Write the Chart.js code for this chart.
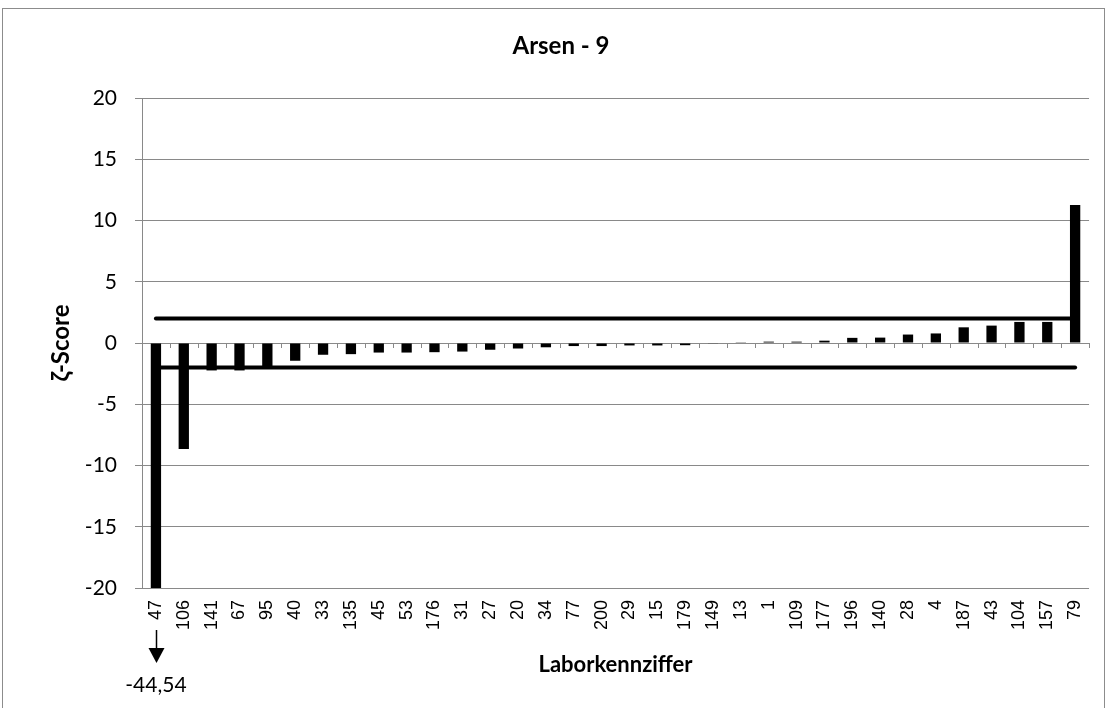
<!DOCTYPE html>
<html>
<head>
<meta charset="utf-8">
<script src="https://cdn.jsdelivr.net/npm/chart.js@4/dist/chart.umd.min.js"></script>
<style>
html,body{margin:0;padding:0;background:#fff;}
#wrap{position:relative;width:1109px;height:708px;}
</style>
</head>
<body>
<div id="wrap"><canvas id="c" width="1109" height="708"></canvas></div>
<script>
const categories = ['47','106','141','67','95','40','33','135','45','53','176','31','27','20','34','77','200','29','15','179','149','13','1','109','177','196','140','28','4','187','43','104','157','79'];
const zetaScores = [-44.54,-8.65,-2.24,-2.24,-1.97,-1.45,-0.96,-0.91,-0.78,-0.78,-0.75,-0.70,-0.55,-0.45,-0.35,-0.25,-0.25,-0.20,-0.20,-0.18,-0.03,0.02,0.11,0.11,0.19,0.42,0.44,0.69,0.78,1.28,1.42,1.72,1.72,11.26];
const upperLimit = [2,2,2,2,2,2,2,2,2,2,2,2,2,2,2,2,2,2,2,2,2,2,2,2,2,2,2,2,2,2,2,2,2,2];
const lowerLimit = [-2,-2,-2,-2,-2,-2,-2,-2,-2,-2,-2,-2,-2,-2,-2,-2,-2,-2,-2,-2,-2,-2,-2,-2,-2,-2,-2,-2,-2,-2,-2,-2,-2,-2];
const yTicks = [20,15,10,5,0,-5,-10,-15,-20];
const chartTitle = 'Arsen - 9';
const yTitle = 'ζ-Score';
const xTitle = 'Laborkennziffer';
const clippedNote = '-44,54';

const FONT = 'Lato, "Open Sans", sans-serif';
const GRID = '#898989';

const decor = {
  id: 'decor',
  beforeDraw(chart) {
    const ctx = chart.ctx;
    ctx.save();
    ctx.fillStyle = '#fff';
    ctx.fillRect(0, 0, chart.width, chart.height);
    ctx.strokeStyle = '#8c8c8c';
    ctx.lineWidth = 1;
    ctx.strokeRect(2.5, 8.5, 1102, 760);
    ctx.restore();
  },
  afterDatasetsDraw(chart) {
    const ctx = chart.ctx;
    const xs = chart.scales.x, ys = chart.scales.y;
    const y0 = ys.getPixelForValue(0);
    const n = categories.length;
    const step = (xs.right - xs.left) / n;
    ctx.save();
    ctx.strokeStyle = GRID;
    ctx.lineWidth = 1;
    ctx.beginPath();
    for (let i = 0; i <= n; i++) {
      const x = Math.round(xs.left + i * step) + 0.5;
      ctx.moveTo(x, y0);
      ctx.lineTo(x, y0 + 5);
    }
    ctx.stroke();
    ctx.restore();
  },
  afterDraw(chart) {
    const ctx = chart.ctx;
    const xs = chart.scales.x;
    const xc = xs.getPixelForValue(0);
    const x = Math.round(xc) + 0.5;
    ctx.save();
    ctx.strokeStyle = '#000';
    ctx.fillStyle = '#000';
    ctx.lineWidth = 1.5;
    ctx.beginPath();
    ctx.moveTo(x, 630);
    ctx.lineTo(x, 650);
    ctx.stroke();
    ctx.beginPath();
    ctx.moveTo(x - 8, 648);
    ctx.lineTo(x + 8, 648);
    ctx.lineTo(x, 663);
    ctx.closePath();
    ctx.fill();
    ctx.font = '21px ' + FONT;
    ctx.textAlign = 'center';
    ctx.textBaseline = 'middle';
    ctx.fillText(clippedNote, xc, 685);
    ctx.font = 'bold 24px ' + FONT;
    ctx.fillText(chartTitle, 561, 46);
    ctx.restore();
  }
};

new Chart(document.getElementById('c'), {
  type: 'bar',
  data: {
    labels: categories,
    datasets: [
      {
        type: 'line',
        data: upperLimit,
        borderColor: '#000',
        borderWidth: 4,
        borderCapStyle: 'round',
        pointRadius: 0,
        fill: false,
        order: 0
      },
      {
        type: 'line',
        data: lowerLimit,
        borderColor: '#000',
        borderWidth: 4,
        borderCapStyle: 'round',
        pointRadius: 0,
        fill: false,
        order: 0
      },
      {
        type: 'bar',
        data: zetaScores,
        backgroundColor: '#000',
        borderWidth: 0,
        barPercentage: 0.37,
        categoryPercentage: 1.0,
        order: 1
      }
    ]
  },
  options: {
    responsive: false,
    animation: false,
    devicePixelRatio: 1,
    layout: { padding: { top: 98, right: 19, left: 0, bottom: 0 } },
    plugins: {
      legend: { display: false },
      tooltip: { enabled: false },
      title: { display: false }
    },
    scales: {
      x: {
        grid: { display: false, drawTicks: false },
        border: { display: false },
        ticks: {
          minRotation: 90,
          maxRotation: 90,
          autoSkip: false,
          padding: 12,
          color: '#000',
          font: { family: '"Liberation Sans", Arial, sans-serif', size: 18 }
        },
        title: {
          display: true,
          text: xTitle,
          color: '#000',
          font: { family: FONT, size: 22, weight: 'bold' },
          padding: { top: 0, bottom: 30 }
        },
        afterFit(scale) { scale.height = 708 - 588; }
      },
      y: {
        min: -20,
        max: 20,
        afterBuildTicks(scale) { scale.ticks = yTicks.map(v => ({ value: v })); },
        grid: { color: GRID, lineWidth: 1, tickLength: 7, drawTicks: true },
        border: { display: true, color: GRID, width: 1 },
        ticks: {
          padding: 18,
          color: '#000',
          font: { family: FONT, size: 21 }
        },
        title: {
          display: true,
          text: yTitle,
          color: '#000',
          font: { family: FONT, size: 24, weight: 'bold' },
          padding: { top: 47, bottom: 0 }
        },
        afterFit(scale) { scale.width = 142; }
      }
    }
  },
  plugins: [decor]
});
</script>
</body>
</html>
